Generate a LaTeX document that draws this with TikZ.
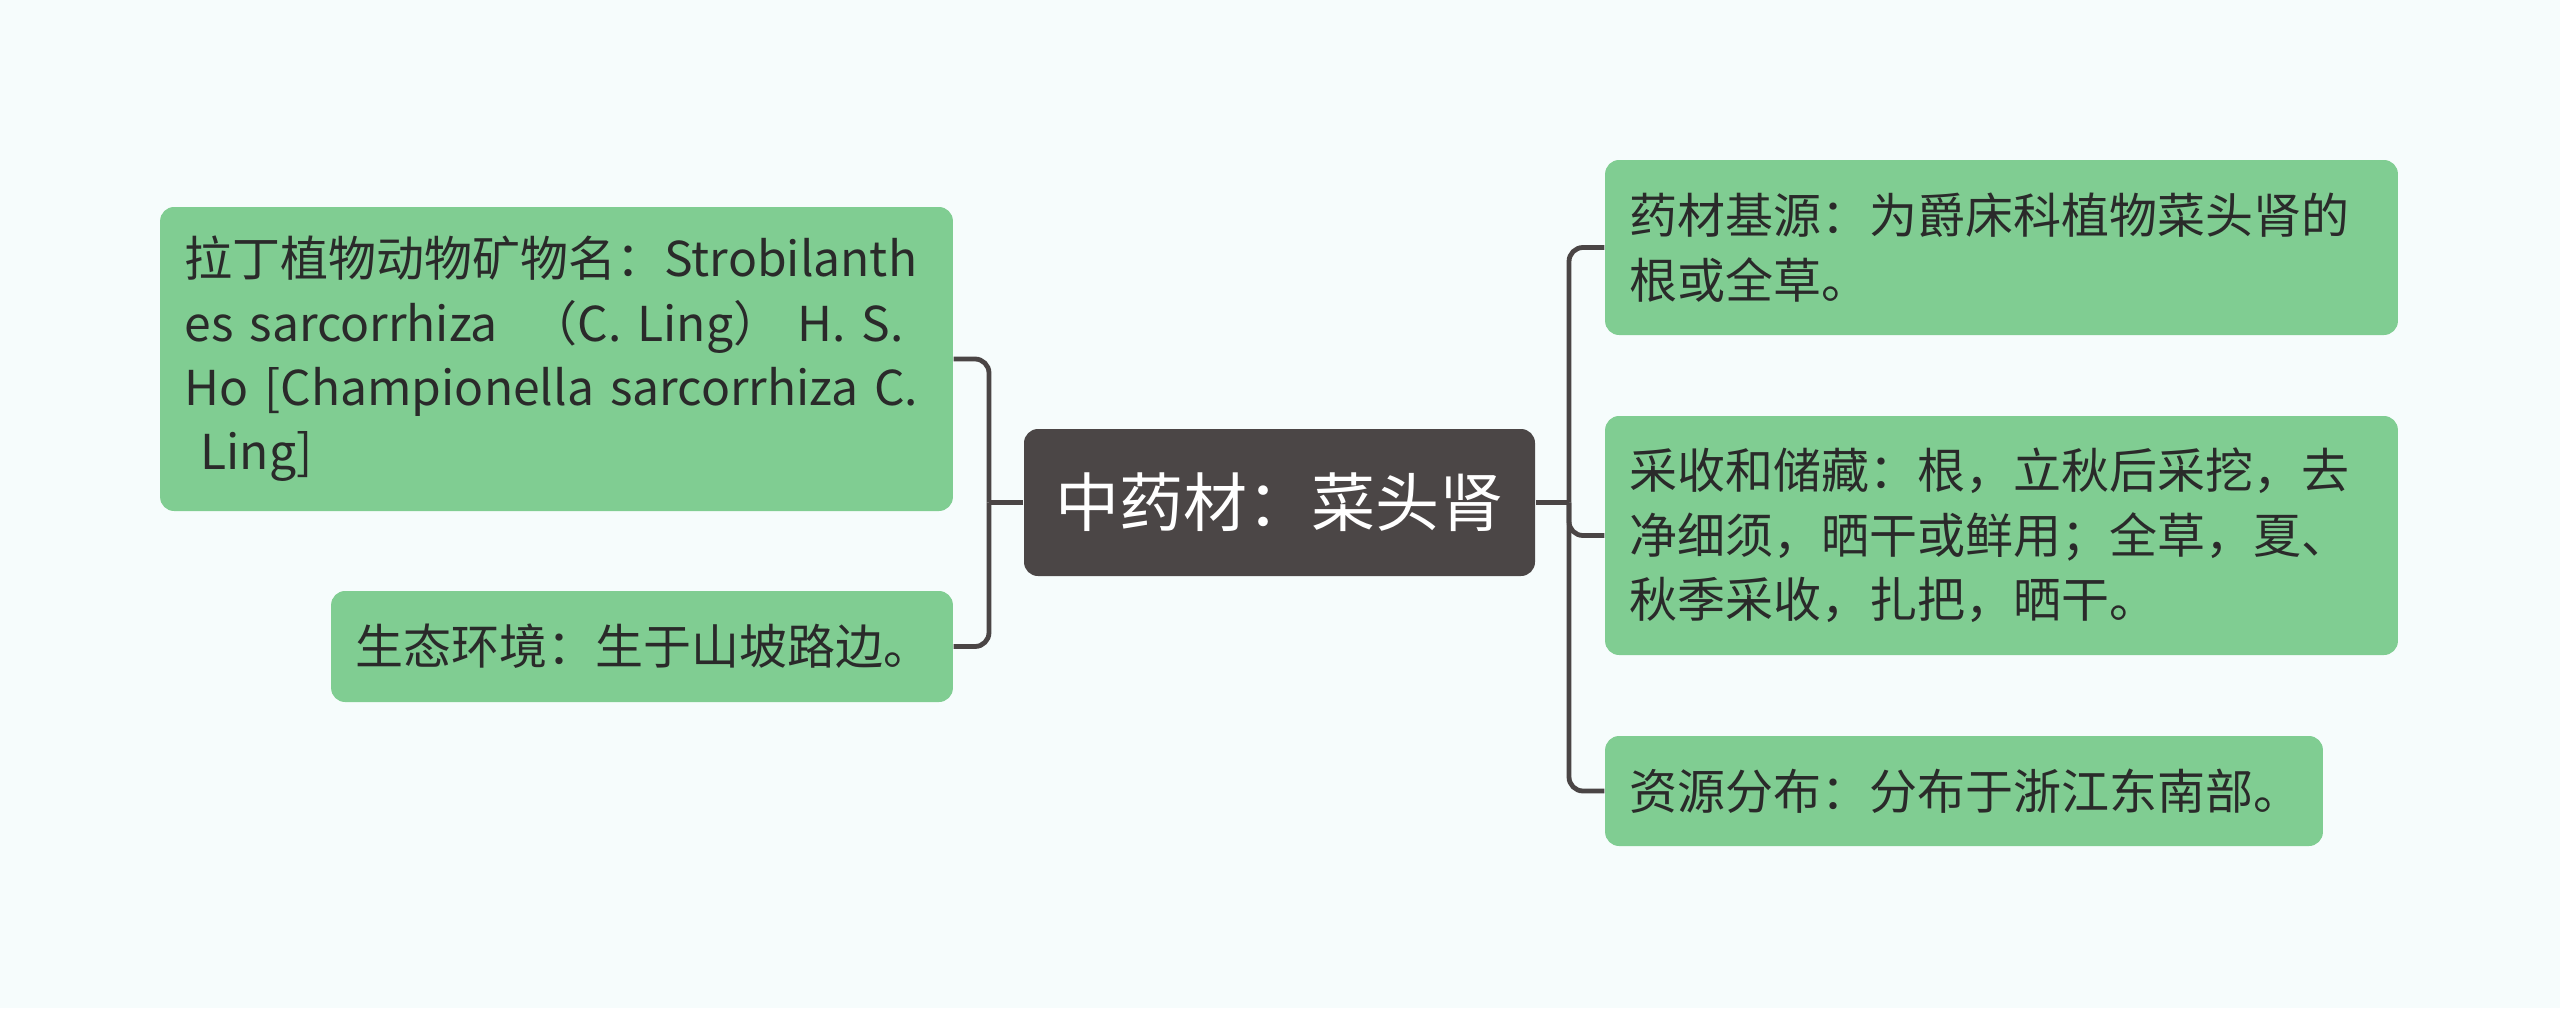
\documentclass[tikz,border=0pt]{standalone}
\usepackage{fontspec}
\setmainfont{Noto Sans CJK SC}
\usepackage{tikz}
\usetikzlibrary{calc,positioning}
\definecolor{bgcol}{HTML}{F6FCFC}
\definecolor{leafgreen}{HTML}{80CD92}
\definecolor{rootgray}{HTML}{4B4646}
\definecolor{linkgray}{HTML}{4A4545}
\definecolor{leaftext}{HTML}{2A2A2A}
\tikzset{link/.style={draw=linkgray, line width=1.2pt}}
\tikzset{leaf/.style={rectangle, rounded corners=3.5pt, fill=leafgreen, text=leaftext, align=left, inner xsep=6.1pt, inner ysep=0pt, font=\fontsize{12pt}{16.1pt}\selectfont}}

\begin{document}
\begin{tikzpicture}[x=1pt, y=1pt,
  rootbox/.style={rectangle, rounded corners=3.5pt, fill=rootgray, text=white,
                  minimum width=127.75pt, minimum height=36.75pt,
                  font=\fontsize{16pt}{19pt}\selectfont},
  elbow/.style={link, rounded corners=3.5pt},
]
  \fill[bgcol] (0,0) rectangle (640,-252);

  % ---- Root ----
  \node[rootbox] (root) at (319.875,-125.625) {中药材：菜头肾};

  % ---- Left branch ----
  \node[leaf, text width=186pt, minimum height=76pt] (latin) at (139.125,-89.75)
      {拉丁植物动物矿物名：Strobilanth\\
       es sarcorrhiza \ （C. Ling）\ H. S.\\
       Ho [Championella sarcorrhiza C.\\
       \ Ling]};
  \node[leaf, text width=143.25pt, minimum height=27.75pt] (habitat) at (160.5,-161.625)
      {生态环境：生于山坡路边。};

  % ---- Right branch ----
  \node[leaf, text width=186pt, minimum height=43.75pt] (origin) at (500.375,-61.875)
      {药材基源：为爵床科植物菜头肾的\\
       根或全草。};
  \node[leaf, text width=186pt, minimum height=59.75pt] (harvest) at (500.375,-133.875)
      {采收和储藏：根，立秋后采挖，去\\
       净细须，晒干或鲜用；全草，夏、\\
       秋季采收，扎把，晒干。};
  \node[leaf, text width=167.25pt, minimum height=27.5pt] (region) at (491,-197.75)
      {资源分布：分布于浙江东南部。};

  % ---- Connectors ----
  \coordinate (lj) at (247.25,-125.625);
  \coordinate (rj) at (392.25,-125.625);
  \draw[link] (root.west) -- (lj);
  \draw[elbow] (lj) |- (latin.east);
  \draw[elbow] (lj) |- (habitat.east);
  \draw[link] (root.east) -- (rj);
  \draw[elbow] (rj) |- (origin.west);
  \draw[elbow] (rj) |- (harvest.west);
  \draw[elbow] (rj) |- (region.west);
\end{tikzpicture}
\end{document}
